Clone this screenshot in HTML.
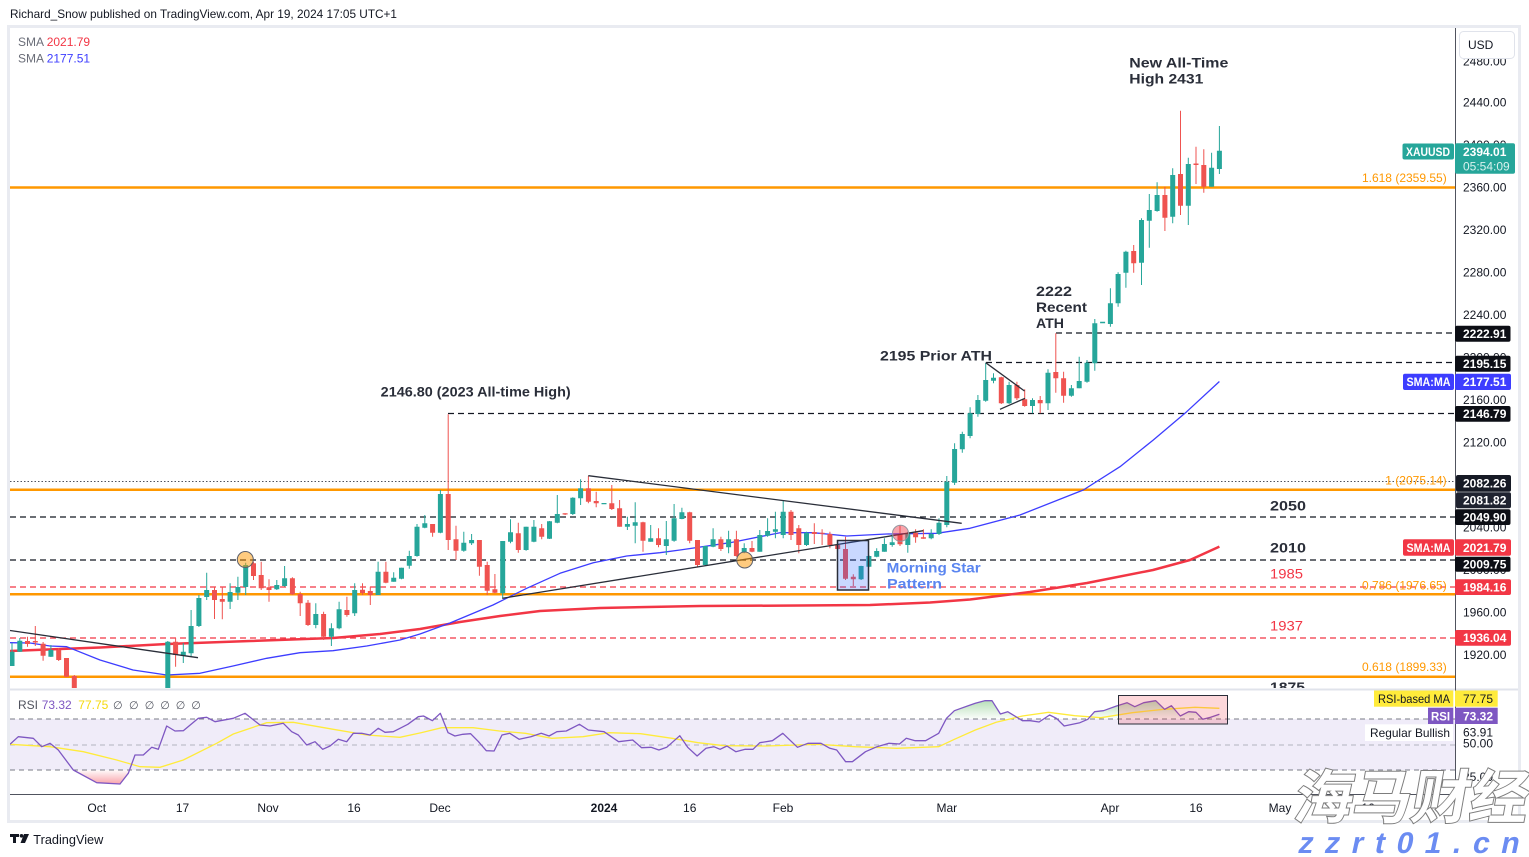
<!DOCTYPE html>
<html><head><meta charset="utf-8"><style>
html,body{margin:0;padding:0;background:#fff;}
svg{display:block;font-family:"Liberation Sans",Arial,sans-serif;}
</style></head><body>
<svg width="1529" height="857" viewBox="0 0 1529 857" xmlns="http://www.w3.org/2000/svg">
<defs>
<clipPath id="mp"><rect x="10" y="28" width="1445" height="660"/></clipPath>
<clipPath id="rp"><rect x="10" y="690" width="1445" height="104"/></clipPath>
<linearGradient id="gg" x1="0" y1="0" x2="0" y2="1"><stop offset="0" stop-color="#4caf50" stop-opacity="0.4"/><stop offset="1" stop-color="#4caf50" stop-opacity="0.02"/></linearGradient>
<linearGradient id="rg" x1="0" y1="1" x2="0" y2="0"><stop offset="0" stop-color="#f23645" stop-opacity="0.45"/><stop offset="1" stop-color="#f23645" stop-opacity="0.02"/></linearGradient>
</defs>
<rect width="1529" height="857" fill="#fff"/>
<text x="10" y="18" font-size="12" fill="#131722" textLength="387" lengthAdjust="spacingAndGlyphs">Richard_Snow published on TradingView.com, Apr 19, 2024 17:05 UTC+1</text>
<rect x="8.5" y="26.5" width="1511" height="795" fill="none" stroke="#e9ebf1" stroke-width="3"/>

<!-- MAIN PANE -->
<g clip-path="url(#mp)">
 <g stroke="#ff9800" stroke-width="2.5">
  <line x1="10" x2="1455" y1="187.5" y2="187.5"/>
  <line x1="10" x2="1455" y1="489.7" y2="489.7"/>
  <line x1="10" x2="1455" y1="594.3" y2="594.3"/>
  <line x1="10" x2="1455" y1="676.7" y2="676.7"/>
 </g>
 <g stroke="#131722" stroke-width="1.2" stroke-dasharray="6 4">
  <line x1="1056" x2="1455" y1="333" y2="333"/>
  <line x1="986" x2="1455" y1="362.5" y2="362.5"/>
  <line x1="448" x2="1455" y1="413.5" y2="413.5"/>
  <line x1="10" x2="1455" y1="517" y2="517"/>
  <line x1="10" x2="1455" y1="560" y2="560"/>
 </g>
 <g stroke="#f23645" stroke-width="1.2" stroke-dasharray="6 4">
  <line x1="10" x2="1455" y1="587" y2="587"/>
  <line x1="10" x2="1455" y1="638" y2="638"/>
 </g>
 <line x1="10" x2="1455" y1="481.5" y2="481.5" stroke="#50535e" stroke-width="1" stroke-dasharray="1.5 2"/>

 <!-- SMA 200 -->
 <polyline fill="none" stroke="#f23645" stroke-width="2.5" stroke-linejoin="round" points="10,651 60,649 100,647.5 167,644 250,641 333,638 380,634 420,629 460,622 500,616 540,611 600,608 700,606 800,605.5 870,605 930,602.5 970,599.5 1030,592 1087,583 1153,570 1190,560 1219.4,546.6"/>
 <!-- SMA 50 -->
 <polyline fill="none" stroke="#3d3dff" stroke-width="1.3" stroke-linejoin="round" points="10,642.7 30,643 50,646 66.7,646.7 100,660 133,670 166.7,675 200,673.3 233,666 266.7,658.3 300,652.7 333,650.7 366.7,646 400,640 420,634 450,623 493,605 526.7,588.3 560,573.3 593.3,562.7 626.7,556 660,552.7 680,550 730,542.7 780,532.7 813.3,532.7 846.7,536 886.7,534 936.7,533.3 970,528.3 1020,515 1083.3,490 1120,466.7 1153.3,440 1186.7,411.7 1219.4,381.5"/>

 <!-- teal candles -->
 <path fill="none" stroke="#26a69a" stroke-width="1" d="M12 643V666M19.8 638V652M50.9 645V657M167.8 641V700M183.3 643V663M191.1 610V656M198.9 595V627M206.7 572.7V600M230.1 583.3V609M237.9 576.7V600M245.7 562.7V595M276.8 580V590M284.6 566V586.7M315.8 603.3V628.3M331.4 623.3V646M339.1 601.7V629.3M354.7 583.3V616M378.1 561.7V595M393.7 572.3V581.7M401.5 567.7V579.3M409.3 550.7V568.7M417 524V556.7M424.8 515V528.3M440.4 490V533.3M463.8 531.7V551.7M471.6 534V545M502.7 541V598.3M510.5 519.3V543.3M526.1 526.7V550.7M533.9 520V542.3M549.5 521V539M557.3 495V523.3M572.8 497.3V515M580.6 479.3V505M627.4 516.7V530M635.2 502.3V543.3M650.7 525V541.7M666.3 521V555M674.1 504V541.7M681.9 507.7V519.3M705.3 546V565.7M713.1 528.3V547.3M728.6 530.7V553.3M744.2 543.3V553.3M759.8 530V551.7M767.6 518.3V536.7M775.4 511.7V538.3M783.2 500.7V538.3M806.5 531.7V546M861.1 565.7V580M868.9 555V567.3M876.7 548.3V557.3M884.4 538.3V551.7M892.2 534V546.7M907.8 531.7V552.7M931.2 529.3V539.3M939 518.3V535M946.8 476V527.3M954.6 443.3V485M962.3 431.7V452.7M970.1 407.3V438.3M977.9 395V416.7M985.7 362.7V401.7M993.5 373.3V383.3M1009.1 381.7V404M1032.5 398.3V413.3M1048 369.3V410M1071.4 385V396.7M1079.2 356.7V388.3M1087 360V382.7M1094.8 319V370.7M1110.4 288.3V326.7M1118.1 272.3V306.7M1125.9 250.7V287.7M1141.5 218.3V285M1149.3 194V247.7M1157.1 182.3V211.7M1172.7 168.3V223.3M1188.3 157.7V225M1211.6 152.7V186.7M1219.4 126V174"/>
 <path fill="#26a69a" d="M9.5 651.7h5v14.3h-5zM17.3 640.7h5v11h-5zM48.4 650h5v6.7h-5zM165.3 641.7h5v58.3h-5zM180.8 651.7h5v4h-5zM188.6 626h5v27.3h-5zM196.4 598h5v28h-5zM204.2 590h5v7h-5zM227.6 592h5v9.7h-5zM235.4 587h5v5.7h-5zM243.2 565h5v22h-5zM274.3 585h5v4.3h-5zM282.1 578.3h5v7.7h-5zM313.3 614h5v11h-5zM328.9 628.3h5v8.4h-5zM336.6 609.3h5v19h-5zM352.2 590h5v23.3h-5zM375.6 571.7h5v23.3h-5zM391.2 577.7h5v4h-5zM399 567.7h5v11h-5zM406.8 556h5v9.7h-5zM414.5 526.7h5v29.3h-5zM422.3 523.3h5v4.4h-5zM437.9 494h5v38.7h-5zM461.3 542.7h5v8h-5zM469.1 540h5v3.3h-5zM500.2 541h5v52.3h-5zM508 532.3h5v9.4h-5zM523.6 526.7h5v23.3h-5zM531.4 526.7h5v15h-5zM547 521.3h5v17.4h-5zM554.8 514h5v8.7h-5zM570.3 497.7h5v16.3h-5zM578.1 488.3h5v10h-5zM601.5 503h5v1.2h-5zM624.9 524h5v2.7h-5zM632.7 522.3h5v3.4h-5zM648.2 538.3h5v3.4h-5zM663.8 539.3h5v6.7h-5zM671.6 518.3h5v22.4h-5zM679.4 512.3h5v6.7h-5zM702.8 546h5v19h-5zM710.6 539.3h5v7.4h-5zM726.1 539.3h5v8h-5zM741.7 548h5v4.3h-5zM757.3 535h5v16.7h-5zM765.1 531h5v4.7h-5zM772.9 529.3h5v2.4h-5zM780.7 511.7h5v23.3h-5zM804 532.7h5v12.3h-5zM858.6 566h5v13.3h-5zM866.4 556h5v10.7h-5zM874.2 551h5v5.7h-5zM881.9 544h5v7.7h-5zM889.7 542.3h5v2.7h-5zM905.3 533.3h5v11.7h-5zM928.7 534h5v4.3h-5zM936.5 522.7h5v11.3h-5zM944.3 481.7h5v43.3h-5zM952.1 449h5v33.7h-5zM959.8 434h5v15.3h-5zM967.6 413.3h5v22.7h-5zM975.4 400h5v14h-5zM983.2 380h5v20.7h-5zM991 377.7h5v3h-5zM1006.6 385h5v18.3h-5zM1030 400h5v6h-5zM1045.5 372.7h5v30.6h-5zM1068.9 388.3h5v7.4h-5zM1076.7 381h5v7.3h-5zM1084.5 362.7h5v19h-5zM1092.3 323.3h5v40h-5zM1100.1 321.8h5v1.4h-5zM1107.9 303.3h5v20.7h-5zM1115.6 274h5v29.3h-5zM1123.4 251.7h5v21h-5zM1139 220h5v42.7h-5zM1146.8 210h5v10.7h-5zM1154.6 195h5v16h-5zM1170.2 175h5v41.7h-5zM1185.8 164h5v41.7h-5zM1209.1 167.7h5v19h-5zM1216.9 150.7h5v18.3h-5z"/>
 <!-- red candles -->
 <path fill="none" stroke="#ef5350" stroke-width="1" d="M27.5 636.7V646.7M35.3 626V646M43.1 642V660.7M58.7 648V661M66.5 658V677M74.3 675V700M175.6 638V666.7M214.5 586.7V619M222.3 586.7V619.3M253.5 561.7V580M261.2 561.7V590M269 579.3V601.7M292.4 577.3V595M300.2 591.7V616M308 600V626M323.6 611.7V640M346.9 596.7V616.7M362.5 583.3V595M370.3 586.7V605M385.9 561.7V583.3M432.6 524V536.7M448.2 414.3V550M456 525.7V560M479.4 540V575.7M487.2 561.7V595M494.9 574V593.3M518.3 522.7V552.7M541.7 524V539.3M565.1 513.3V515M588.4 476V503.3M596.2 491.7V507.3M611.8 485V510M619.6 500V526.7M643 521.7V551.7M658.5 528.3V547.3M689.7 511.7V543.3M697.5 540V566.7M720.9 536.7V551M736.4 530.7V556.7M752 541V552.3M791 510V540M798.8 525V553.3M814.3 523.3V544M822.1 529.3V545M829.9 531.7V548.3M837.7 541.7V550M845.5 536.7V580M853.3 574.3V586M900 525V546M915.6 529.3V542.7M923.4 529.3V538.7M1001.3 376.7V404M1016.9 381.7V400M1024.7 389.3V406.7M1040.2 396V413.3M1055.8 333.3V392.7M1063.6 371.7V402.7M1133.7 245V272.7M1164.9 186.7V231M1180.5 110.7V215M1196 146.7V184M1203.8 149.3V192.7"/>
 <path fill="#ef5350" d="M25 641h5v3h-5zM32.8 641h5v1.5h-5zM40.6 643.7h5v12h-5zM56.2 650h5v10h-5zM64 658h5v18.7h-5zM71.8 676h5v24h-5zM173.1 641.7h5v13.3h-5zM212 590h5v10h-5zM219.8 599h5v2.7h-5zM251 563.3h5v12.7h-5zM258.7 575h5v13.3h-5zM266.5 587.3h5v2.7h-5zM289.9 578.3h5v16h-5zM297.7 594h5v9.3h-5zM305.5 602.7h5v22.3h-5zM321.1 614h5v22.7h-5zM344.4 610h5v5h-5zM360 589.7h5v3.3h-5zM367.8 591h5v4h-5zM383.4 571.7h5v11h-5zM430.1 524h5v8.7h-5zM445.7 494h5v46h-5zM453.5 539.3h5v11.4h-5zM476.9 540h5v26.7h-5zM484.7 565h5v25.7h-5zM492.4 589.3h5v3.4h-5zM515.8 533.3h5v16.7h-5zM539.2 528.3h5v8.4h-5zM562.6 513.3h5v1.2h-5zM585.9 488.3h5v13.4h-5zM593.7 501h5v2.3h-5zM609.3 503.3h5v5.7h-5zM617.1 508.3h5v18.4h-5zM640.5 522.3h5v18.4h-5zM656 538.3h5v6.7h-5zM687.2 512.3h5v28.4h-5zM695 540h5v25h-5zM718.4 539.3h5v9.7h-5zM733.9 539.3h5v16.7h-5zM749.5 548h5v3.7h-5zM788.5 511.7h5v23.3h-5zM796.3 528.3h5v16.7h-5zM811.8 532h5v2h-5zM819.6 532.7h5v1.2h-5zM827.4 534h5v11h-5zM835.2 545h5v4h-5zM843 549h5v29.7h-5zM850.8 576.7h5v2.6h-5zM897.5 534h5v10.3h-5zM913.1 532.7h5v4.6h-5zM920.9 537.3h5v1.4h-5zM998.8 377.3h5v26h-5zM1014.4 385h5v13.3h-5zM1022.2 399.3h5v6.7h-5zM1037.7 400h5v3.3h-5zM1053.3 372h5v6.3h-5zM1061.1 378.3h5v17.4h-5zM1131.2 251h5v12.3h-5zM1162.4 195h5v22.7h-5zM1178 174h5v31.7h-5zM1193.5 163.5h5v1.5h-5zM1201.3 165h5v21.7h-5z"/>

 <!-- trendlines -->
 <g stroke="#2a2e39" stroke-width="1.3" fill="none">
  <line x1="10" y1="630.5" x2="198" y2="657.7"/>
  <line x1="588.3" y1="475.7" x2="961.7" y2="523.3"/>
  <line x1="502.3" y1="598.3" x2="923.3" y2="530.7"/>
  <line x1="985.7" y1="362.7" x2="1024.5" y2="391"/>
  <line x1="1000" y1="409.3" x2="1025" y2="398.3"/>
 </g>
 <!-- shapes -->
 <rect x="837.5" y="540.5" width="31" height="49.5" fill="rgba(41,98,255,0.25)" stroke="#2a2e39" stroke-width="1.5"/>
 <circle cx="245.3" cy="559.5" r="8" fill="rgba(255,152,0,0.5)" stroke="#5d606b" stroke-width="1"/>
 <circle cx="744.7" cy="560" r="8" fill="rgba(255,152,0,0.5)" stroke="#5d606b" stroke-width="1"/>
 <circle cx="900.5" cy="533.3" r="8" fill="rgba(242,54,69,0.45)" stroke="#9598a1" stroke-width="1"/>

 <!-- fib labels -->
 <g font-size="12" fill="#ff9800" text-anchor="end">
  <text x="1446.7" y="182">1.618 (2359.55)</text>
  <text x="1446.7" y="484.5">1 (2075.14)</text>
  <text x="1446.7" y="589.5">0.786 (1976.65)</text>
  <text x="1446.7" y="671">0.618 (1899.33)</text>
 </g>
 <!-- annotations -->
 <g font-size="14" font-weight="bold" fill="#2a2e39">
  <text x="1129.3" y="67.3" textLength="99" lengthAdjust="spacingAndGlyphs">New All-Time</text>
  <text x="1129.3" y="83.3" textLength="74" lengthAdjust="spacingAndGlyphs">High 2431</text>
  <text x="1036" y="296" textLength="36" lengthAdjust="spacingAndGlyphs">2222</text>
  <text x="1036" y="312" textLength="51" lengthAdjust="spacingAndGlyphs">Recent</text>
  <text x="1036" y="328" textLength="28" lengthAdjust="spacingAndGlyphs">ATH</text>
  <text x="880" y="360.7" textLength="112" lengthAdjust="spacingAndGlyphs">2195 Prior ATH</text>
  <text x="380.7" y="396.7" textLength="190" lengthAdjust="spacingAndGlyphs">2146.80 (2023 All-time High)</text>
  <text x="1270" y="510.5" textLength="36" lengthAdjust="spacingAndGlyphs">2050</text>
  <text x="1270" y="552.5" textLength="36" lengthAdjust="spacingAndGlyphs">2010</text>
  <text x="1270" y="692" textLength="35" lengthAdjust="spacingAndGlyphs">1875</text>
 </g>
 <g font-size="14" fill="#f23645">
  <text x="1270" y="578.5" textLength="33" lengthAdjust="spacingAndGlyphs">1985</text>
  <text x="1270" y="630.5" textLength="33" lengthAdjust="spacingAndGlyphs">1937</text>
 </g>
 <g font-size="14" font-weight="bold" fill="#5a85f0">
  <text x="886.7" y="572.7" textLength="94" lengthAdjust="spacingAndGlyphs">Morning Star</text>
  <text x="887" y="588.3" textLength="55" lengthAdjust="spacingAndGlyphs">Pattern</text>
 </g>
 <!-- legend -->
 <g font-size="12">
  <text x="18" y="46" fill="#6a6d78">SMA</text><text x="46.7" y="46" fill="#f23645">2021.79</text>
  <text x="18" y="62.5" fill="#6a6d78">SMA</text><text x="46.7" y="62.5" fill="#3d3dff">2177.51</text>
 </g>
</g>

<!-- RSI PANE -->
<g clip-path="url(#rp)">
 <rect x="10" y="719" width="1445" height="51" fill="#f0ecf9"/>
 <line x1="10" x2="1455" y1="719" y2="719" stroke="#787b86" stroke-dasharray="5 4"/>
 <line x1="10" x2="1455" y1="745" y2="745" stroke="#b2b5be" stroke-dasharray="5 4"/>
 <line x1="10" x2="1455" y1="770" y2="770" stroke="#787b86" stroke-dasharray="5 4"/>
 <polygon fill="url(#gg)" points="945.7,719 946.5,718.3 954.4,710.7 967.5,706 975.3,703.3 984.7,700.7 992,700.7 1000.4,714 1007.7,711.7 1019.6,719"/>
 <polygon fill="url(#gg)" points="1087.3,719 1094.6,711.7 1103.5,710.7 1116.5,706 1127,702.7 1134.8,706.7 1143.7,702.7 1155.7,700.7 1164.6,709.3 1171.4,705.7 1180.3,716 1188.7,711.7 1196,712.3 1202.4,719 1203.5,719 1210.7,717.3 1219.4,714.3 1219.4,719"/>
 <polygon fill="url(#rg)" points="73.3,770 96.7,782.7 120,784 128.3,773.3 129.5,770"/>
 <polyline fill="none" stroke="#ffeb3b" stroke-width="1.3" points="10,744.3 50,746.7 83.3,751.7 116.7,760 140,766.7 160,767.3 183.3,760 216.7,743.3 233.3,734 266.7,722.7 293.3,722.3 333.3,729.3 366.7,735 400,737.3 421,732.7 441.8,727.7 473.2,727.7 499.4,731 525.5,733.3 551.7,738.3 583,736.7 609.2,732.7 640.6,733.7 672,738.3 698.1,742.7 724.3,745.7 766.1,746 818.4,744.3 855,746.7 896.9,748.3 938.7,746.7 954.4,739.3 975.3,730 996.2,722.3 1022.4,716 1048.5,712.3 1074.7,715.7 1100.8,717.7 1132.2,712.7 1163.6,709.3 1195,707.3 1219.4,708.3"/>
 <polyline fill="none" stroke="#7e57c2" stroke-width="1.3" stroke-linejoin="round" points="10,744.3 18.3,736.7 33.3,738.3 41.7,746.7 50,743.3 58.3,750 73.3,770 96.7,782.7 120,784 128.3,773.3 135,755 143.3,755 151.7,747.3 158.3,749.3 166.7,726 175,731 183.3,730.7 198.3,718.3 206.7,717.3 215,721.7 233.3,718.3 245,713.3 260,725 270,726 283.3,723.3 291.7,731.7 298.3,735 306.7,745 315,741.7 322.7,749.3 330,746 338.3,739.3 346.7,741.7 353.3,733.3 361.7,733.3 370,735 378.3,728.3 385,732.3 393.3,731.7 400,728.3 407.8,724.3 418.3,716.7 423.5,716 432.4,720.7 440.3,713.3 448.1,732.7 454.9,736 462.8,734.3 470.6,733.7 478.5,741.7 486.3,750.7 494.1,751 502,735 509.8,733.3 519.2,739.3 530.8,736.7 541.2,733.3 549.1,736 556.9,731.7 566.3,731 579.4,724.3 588.3,730 604,731.7 618.6,741.7 632.7,740 641.6,747.7 651,747.3 658.9,750 666.7,747.3 679.8,735.7 687.7,747.3 697.1,756 706,748.3 713.8,746.7 720.1,749.3 726.9,746 735.8,751.7 745.2,749.3 753,749.3 759.8,742.7 772.4,740.7 782.8,733.3 797.5,747.3 807.9,743.3 821,743.3 829.9,748.3 836.7,750 845.6,761.7 852.4,761.7 865.5,751.7 877,746.7 889,743.3 899.5,744 906.3,738.3 915.2,740.7 925.6,740.7 938.7,733.3 946.5,718.3 954.4,710.7 967.5,706 975.3,703.3 984.7,700.7 992,700.7 1000.4,714 1007.7,711.7 1022.4,720.7 1030.2,720.7 1039.1,722 1049.6,715 1056.4,718.3 1064.2,726 1079.9,722.7 1087.8,719.3 1094.6,711.7 1103.5,710.7 1116.5,706 1127,702.7 1134.8,706.7 1143.7,702.7 1155.7,700.7 1164.6,709.3 1171.4,705.7 1180.3,716 1188.7,711.7 1196,712.3 1202.8,719.3 1210.7,717.3 1219.4,714.3"/>
 <rect x="1118.5" y="695.5" width="109" height="28.5" fill="rgba(242,54,69,0.2)" stroke="#2a2e39" stroke-width="1"/>
 <g font-size="12">
  <text x="18" y="709" fill="#50535e">RSI</text>
  <text x="41.7" y="709" fill="#7e57c2">73.32</text>
  <text x="78.3" y="709" fill="#f5d90a">77.75</text>
  <g fill="#50535e" font-family="'DejaVu Sans',sans-serif" font-size="11">
   <text x="113" y="709">∅</text><text x="129" y="709">∅</text><text x="144.7" y="709">∅</text><text x="160.3" y="709">∅</text><text x="175.7" y="709">∅</text><text x="191.3" y="709">∅</text>
  </g>
 </g>
</g>

<!-- separators -->
<line x1="10" x2="1518" y1="689.5" y2="689.5" stroke="#e0e3eb" stroke-width="2"/>
<line x1="1455.5" x2="1455.5" y1="28" y2="821" stroke="#50535e" stroke-width="1"/>
<line x1="10" x2="1455.5" y1="794.5" y2="794.5" stroke="#50535e" stroke-width="1"/>

<!-- price axis ticks -->
<g font-size="12" fill="#131722">
 <text x="1463" y="65.5">2480.00</text>
 <text x="1463" y="106.3">2440.00</text>
 <text x="1463" y="148.8">2400.00</text>
 <text x="1463" y="191.3">2360.00</text>
 <text x="1463" y="233.8">2320.00</text>
 <text x="1463" y="276.3">2280.00</text>
 <text x="1463" y="318.8">2240.00</text>
 <text x="1463" y="361.3">2200.00</text>
 <text x="1463" y="403.8">2160.00</text>
 <text x="1463" y="446.3">2120.00</text>
 <text x="1463" y="488.8">2080.00</text>
 <text x="1463" y="531.3">2040.00</text>
 <text x="1463" y="573.8">2000.00</text>
 <text x="1463" y="616.3">1960.00</text>
 <text x="1463" y="658.8">1920.00</text>
 <text x="1463" y="747.5">50.00</text>
 <text x="1463" y="781">25.00</text>
</g>
<!-- USD box -->
<rect x="1459.5" y="31.5" width="55" height="27" rx="4" fill="#fff" stroke="#e0e3eb"/>
<text x="1468" y="49" font-size="12" fill="#131722">USD</text>

<!-- axis label boxes -->
<g font-size="12" font-weight="bold" fill="#fff">
 <rect x="1402.5" y="143.5" width="51.5" height="16" rx="2" fill="#26a69a"/>
 <text x="1406" y="156" textLength="44" lengthAdjust="spacingAndGlyphs">XAUUSD</text>
 <rect x="1455" y="143.3" width="60" height="30.5" rx="2" fill="#26a69a"/>
 <text x="1463" y="156">2394.01</text>
 <text x="1463" y="170.5" font-weight="normal" fill="#d8f1ee">05:54:09</text>

 <rect x="1455" y="325.7" width="55.5" height="16" rx="2" fill="#0c0e15"/>
 <text x="1463" y="338">2222.91</text>
 <rect x="1455" y="355.7" width="55.5" height="16" rx="2" fill="#0c0e15"/>
 <text x="1463" y="368">2195.15</text>
 <rect x="1403" y="373.7" width="51" height="16.3" rx="2" fill="#3d3dff"/>
 <text x="1406.5" y="386.2" textLength="44" lengthAdjust="spacingAndGlyphs">SMA:MA</text>
 <rect x="1455" y="373.7" width="56" height="16.3" rx="2" fill="#3d3dff"/>
 <text x="1463" y="386.2">2177.51</text>
 <rect x="1455" y="406" width="55.5" height="15.7" rx="2" fill="#0c0e15"/>
 <text x="1463" y="418.2">2146.79</text>

 <rect x="1456" y="475" width="55" height="16.7" rx="2" fill="#161a25"/>
 <text x="1463" y="487.6">2082.26</text>
 <rect x="1456" y="492.3" width="55" height="16" rx="2" fill="#1f2330"/>
 <text x="1463" y="504.6">2081.82</text>
 <rect x="1455" y="509.3" width="55.5" height="15.7" rx="2" fill="#0c0e15"/>
 <text x="1463" y="521.5">2049.90</text>
 <rect x="1403" y="539.3" width="51" height="16.4" rx="2" fill="#f23645"/>
 <text x="1406.5" y="551.8" textLength="44" lengthAdjust="spacingAndGlyphs">SMA:MA</text>
 <rect x="1455" y="539.3" width="56" height="16.4" rx="2" fill="#f23645"/>
 <text x="1463" y="551.8">2021.79</text>
 <rect x="1455" y="556.7" width="55.5" height="15" rx="2" fill="#0c0e15"/>
 <text x="1463" y="568.5">2009.75</text>
 <rect x="1455" y="579.3" width="56" height="15.7" rx="2" fill="#f23645"/>
 <text x="1463" y="591.5">1984.16</text>
 <rect x="1455" y="630" width="56" height="15.7" rx="2" fill="#f23645"/>
 <text x="1463" y="642.2">1936.04</text>

 <rect x="1374" y="690.5" width="79.3" height="16.2" fill="#ffeb3b"/>
 <text x="1378" y="703" fill="#131722" font-weight="normal" textLength="72" lengthAdjust="spacingAndGlyphs">RSI-based MA</text>
 <rect x="1455" y="690.5" width="42.7" height="16.2" fill="#ffeb3b"/>
 <text x="1463" y="703" fill="#131722" font-weight="normal">77.75</text>
 <rect x="1428" y="707.7" width="25.3" height="16.3" fill="#7e57c2"/>
 <text x="1431" y="720.3" textLength="19" lengthAdjust="spacingAndGlyphs">RSI</text>
 <rect x="1455" y="707.7" width="42.7" height="16.3" fill="#7e57c2"/>
 <text x="1463" y="720.3">73.32</text>
 <rect x="1365" y="724.3" width="88" height="16.7" fill="#fff"/>
 <text x="1370" y="736.8" fill="#131722" font-weight="normal" textLength="80" lengthAdjust="spacingAndGlyphs">Regular Bullish</text>
 <text x="1463" y="736.5" fill="#131722" font-weight="normal">63.91</text>
</g>

<!-- time axis -->
<g font-size="12" fill="#131722" text-anchor="middle">
 <text x="96.7" y="812">Oct</text>
 <text x="182.5" y="812">17</text>
 <text x="268" y="812">Nov</text>
 <text x="354" y="812">16</text>
 <text x="440" y="812">Dec</text>
 <text x="604" y="812" font-weight="bold">2024</text>
 <text x="689.7" y="812">16</text>
 <text x="783" y="812">Feb</text>
 <text x="946.8" y="812">Mar</text>
 <text x="1110" y="812">Apr</text>
 <text x="1196" y="812">16</text>
 <text x="1280" y="812">May</text>
 <text x="1368" y="812">16</text>
</g>

<!-- TradingView logo -->
<g fill="#131722">
 <path d="M10 834h9v3h-3v6h-3v-6h-3z"/>
 <circle cx="21.5" cy="835.8" r="1.8"/>
 <path d="M24 834h5l-4 9h-4.5z"/>
</g>
<text x="33.3" y="844" font-size="13" fill="#131722" textLength="70" lengthAdjust="spacingAndGlyphs">TradingView</text>

<!-- watermark -->
<text transform="translate(1292,818) skewX(-10)" font-family="'Noto Sans CJK SC','WenQuanYi Zen Hei',sans-serif" font-size="58" font-weight="bold" fill="#ffffff" stroke="#7d7d7d" stroke-width="2" paint-order="stroke" textLength="234" lengthAdjust="spacingAndGlyphs">海马财经</text>
<text transform="translate(1297,853) skewX(-12)" font-family="'Liberation Sans',sans-serif" font-size="30" font-weight="bold" fill="#6b8cf2" textLength="221" lengthAdjust="spacing">zzrt01.cn</text>
</svg>
</body></html>
